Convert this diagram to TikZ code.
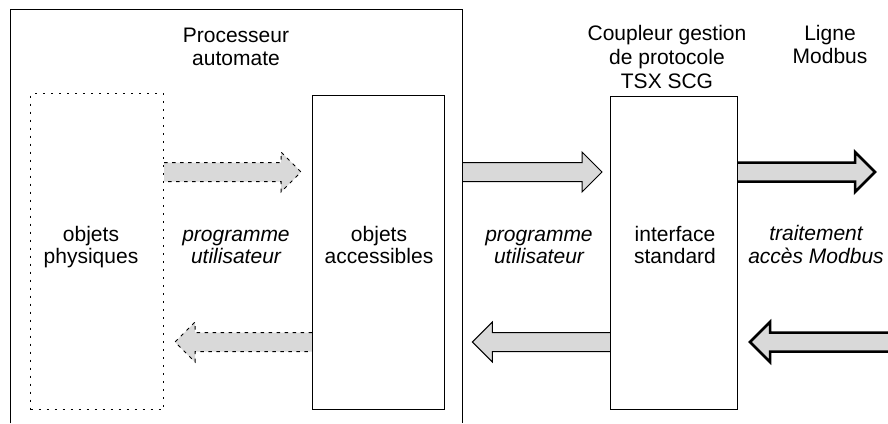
\documentclass[tikz,border=0pt]{standalone}
\usepackage{fontspec}
\setmainfont{Liberation Sans}
\usetikzlibrary{calc,backgrounds}

\definecolor{arrowgray}{HTML}{D9D9D9}

% Horizontal block arrow from #2 (tail) to #3 (tip); the tail side stays open.
\newcommand{\blockarrow}[3][]{%
  \path[#1] let \p1=(#2), \p2=(#3), \n1={ifthenelse(\x2>\x1,1,-1)} in
    (\x1,\y1+9.5pt) -- (\x2-\n1*20pt,\y1+9.5pt) -- (\x2-\n1*20pt,\y1+20pt)
    -- (\x2,\y1) -- (\x2-\n1*20pt,\y1-20pt) -- (\x2-\n1*20pt,\y1-9.5pt)
    -- (\x1,\y1-9.5pt);}

\begin{document}
\begin{tikzpicture}[x=1pt,y=-1pt,
  every node/.style={font=\fontsize{21}{22}\selectfont, inner sep=0pt},
  frame/.style={line width=1pt},
  box/.style={draw, line width=1pt, anchor=north west},
  dotbox/.style={box, dash pattern=on 2pt off 6pt},
  txt/.style={align=center},
  ittxt/.style={align=center, font=\fontsize{21}{22}\selectfont\itshape},
  title/.style={align=center, anchor=north},
  flow/.style={fill=arrowgray, draw, line width=1pt, line join=miter},
  dotflow/.style={flow, dash pattern=on 3.5pt off 4.5pt},
  busflow/.style={flow, line width=2.5pt},
]
\useasboundingbox (0,0) rectangle (888,423);

% PLC processor frame, open at the bottom
\node[minimum width=452pt, minimum height=414pt, anchor=north west] (proc) at (10,9) {};
\draw[frame] (proc.south west) -- (proc.north west) -- (proc.north east) -- (proc.south east);

% Blocks
\node[dotbox, minimum width=133pt, minimum height=316pt] (phys) at (30,93) {};
\node[box, minimum width=132pt, minimum height=314pt] (acc) at (312,95) {};
\node[box, minimum width=127pt, minimum height=313pt] (itf) at (610,96) {};

% Headings
\node[title, font=\fontsize{21}{23}\selectfont] (proct) at (236,25.9) {\strut Processeur\\\strut automate};
\node[title, font=\fontsize{21}{24}\selectfont] (coupt) at (667,23.2) {\strut Coupleur gestion\\\strut de protocole\\\strut TSX SCG};
\node[title, font=\fontsize{21}{23}\selectfont] (lignet) at (830,23.9) {\strut Ligne\\\strut Modbus};

% Block and flow labels
\node[txt] (physt) at (91,247.6) {\strut objets\\\strut physiques};
\node[ittxt] (prog1) at (236,247.6) {\strut programme\\\strut utilisateur};
\node[txt] (acct) at (379,247.6) {\strut objets\\\strut accessibles};
\node[ittxt] (prog2) at (539,247.6) {\strut programme\\\strut utilisateur};
\node[txt] (itft) at (675,247.6) {\strut interface\\\strut standard};
\node[ittxt] (trait) at (816,247.6) {\strut traitement\\\strut accès Modbus};

% Flow levels and free ends on the Modbus line
\coordinate (ytop) at (0,172);
\coordinate (ybot) at (0,342);
\coordinate (busR) at (875,172);
\coordinate (busL) at (888,342);

\begin{scope}[on background layer]
  \blockarrow[dotflow]{phys.east |- ytop}{$(acc.west |- ytop)+(-11,0)$}
  \blockarrow[dotflow]{acc.west |- ybot}{$(phys.east |- ybot)+(11,0)$}
  \blockarrow[flow]{proc.east |- ytop}{$(itf.west |- ytop)+(-8,0)$}
  \blockarrow[flow]{itf.west |- ybot}{$(proc.east |- ybot)+(10,0)$}
  \blockarrow[busflow]{itf.east |- ytop}{busR}
  \blockarrow[busflow]{busL}{$(itf.east |- ybot)+(12,0)$}
\end{scope}
\end{tikzpicture}
\end{document}
